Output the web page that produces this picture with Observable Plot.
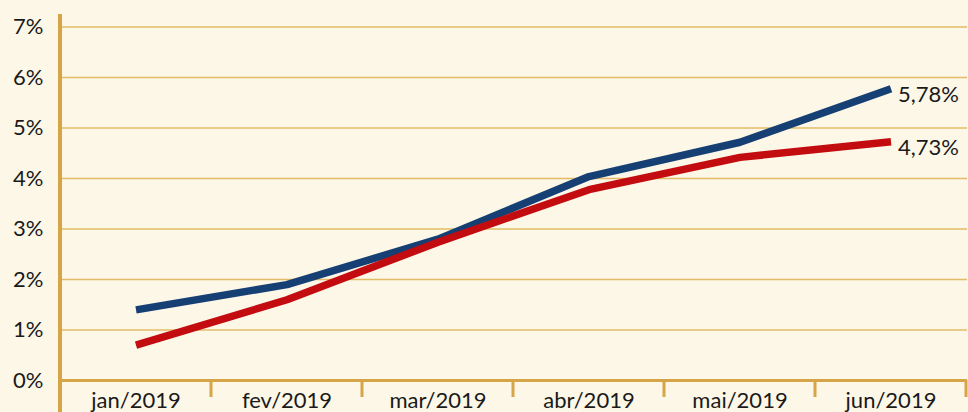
<!DOCTYPE html>
<html><head><meta charset="utf-8">
<script src="https://cdn.jsdelivr.net/npm/d3@7"></script>
<script src="https://cdn.jsdelivr.net/npm/@observablehq/plot@0.6"></script>
<style>
html,body{margin:0;padding:0;background:#fdf7e8;}
#chart svg{display:block;}
</style></head><body><div id="chart"></div>
<script>
const months = ["jan/2019","fev/2019","mar/2019","abr/2019","mai/2019","jun/2019"];
const seriesA = [1.4, 1.9, 2.8, 4.04, 4.72, 5.78];
const seriesB = [0.7, 1.6, 2.74, 3.78, 4.42, 4.73];
const seriesNames = ["Série A", "Série B"];
const endLabels = ["5,78%", "4,73%"];
const yTicks = [0, 1, 2, 3, 4, 5, 6, 7];

const data = [];
months.forEach((m, i) => {
  data.push({month: m, value: seriesA[i], series: seriesNames[0]});
  data.push({month: m, value: seriesB[i], series: seriesNames[1]});
});
const last = months.length - 1;
const labelData = [
  {month: months[last], value: seriesA[last], label: endLabels[0]},
  {month: months[last], value: seriesB[last], label: endLabels[1]}
];

const gold = "#d6a548";
const grid = "#e2bb66";

const chart = Plot.plot({
  width: 968,
  height: 412,
  marginLeft: 58,
  marginRight: 1,
  marginTop: 14,
  marginBottom: 32,
  style: {background: "#fdf7e8", fontFamily: "Lato, 'Open Sans', sans-serif", fontSize: "22px", color: "#1a1a1a"},
  x: {type: "band", domain: months, padding: 0},
  y: {domain: [0, 7.25]},
  color: {type: "ordinal", domain: seriesNames, range: ["#163f74", "#c20c10"]},
  marks: [
    Plot.gridY(yTicks, {stroke: grid, strokeOpacity: 1, strokeWidth: 1.5}),
    Plot.axisY(yTicks, {tickSize: 0, tickPadding: 15, tickFormat: d => d + "%", fontSize: 22, label: null}),
    Plot.axisX({tickSize: 0, tickPadding: 12, fontSize: 22, label: null}),
    Plot.ruleY([0], {stroke: gold, strokeWidth: 3}),
    Plot.line(data, {x: "month", y: "value", z: "series", stroke: "series", strokeWidth: 7.5, strokeLinejoin: "miter", strokeLinecap: "butt"}),
    Plot.text(labelData, {x: "month", y: "value", text: "label", textAnchor: "start", dx: 7, dy: 6, fontSize: 22, fill: "#1a1a1a"})
  ]
});

// decorate axis: vertical axis line and band-boundary ticks derived from scales
const svg = d3.select(chart);
const xs = chart.scale("x");
const ys = chart.scale("y");
const y0 = ys.apply(0);
const step = xs.bandwidth;
const bounds = months.map(m => xs.apply(m)).concat([xs.apply(months[last]) + step]);
svg.append("g").selectAll("line").data(bounds.slice(1)).join("line")
  .attr("x1", d => Math.min(d, 966.5)).attr("x2", d => Math.min(d, 966.5))
  .attr("y1", y0).attr("y2", y0 + 17)
  .attr("stroke", gold).attr("stroke-width", 3);
svg.append("line")
  .attr("x1", bounds[0]).attr("x2", bounds[0])
  .attr("y1", 14).attr("y2", 412)
  .attr("stroke", gold).attr("stroke-width", 4);

document.getElementById("chart").appendChild(chart);
</script></body></html>
